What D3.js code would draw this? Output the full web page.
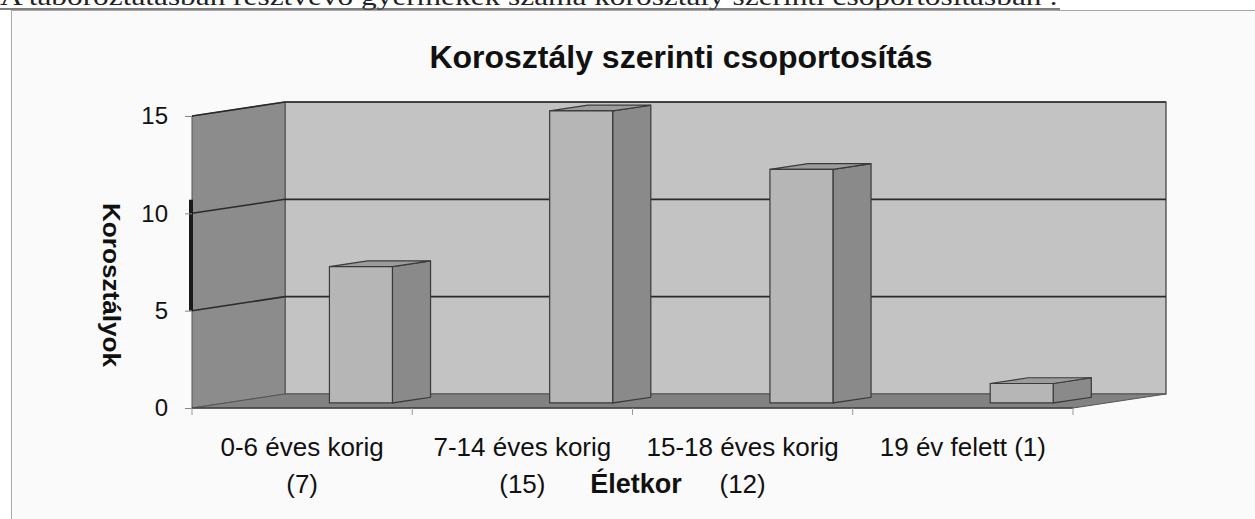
<!DOCTYPE html>
<html>
<head>
<meta charset="utf-8">
<script src="https://cdn.jsdelivr.net/npm/d3@7"></script>
<style>
  body { margin: 0; background: #fff; }
  svg { display: block; }
  .tick text { font-family: Arial, "Liberation Sans", sans-serif; }
</style>
</head>
<body>
<svg id="chart" width="1255" height="519"></svg>
<script>
// Chart data
var categories = ['0-6 éves korig (7)', '7-14 éves korig (15)',
  '15-18 éves korig (12)', '19 év felett (1)'];
var values = [7, 15, 12, 1];
var labelLines = [
  ['0-6 éves korig', '(7)'],
  ['7-14 éves korig', '(15)'],
  ['15-18 éves korig', '(12)'],
  ['19 év felett (1)']
];
var yTicks = [0, 5, 10, 15];

var chartTitle = 'Korosztály szerinti csoportosítás';
var yTitle = 'Korosztályok';
var xTitle = 'Életkor';
var docLine = 'A táboroztatásban résztvevő gyermekek száma korosztály ' +
  'szerinti csoportosításban :';

var font = 'Arial, "Liberation Sans", sans-serif';
var svg = d3.select('#chart');

// chart area frame
svg.append('rect')
  .attr('x', 11.5).attr('y', 10.5)
  .attr('width', 1260).attr('height', 520)
  .attr('fill', '#fafafa')
  .attr('stroke', '#a8a8a8');

// page text line, mostly cut off above the picture
svg.append('text')
  .attr('x', 0)
  .attr('y', 5)
  .attr('font-family', '"Liberation Serif", "Times New Roman", serif')
  .attr('font-size', 25)
  .attr('textLength', 1058)
  .attr('lengthAdjust', 'spacingAndGlyphs')
  .attr('fill', '#222')
  .text(docLine);
svg.append('line')
  .attr('x1', 0).attr('x2', 1060)
  .attr('y1', 9).attr('y2', 9)
  .attr('stroke', '#555').attr('stroke-width', 1.5);

// 3D geometry: front plane + depth vector
var x0 = 192, x1 = 1073;
var depth = [93, -14];
var x = d3.scaleBand().domain(categories).range([x0, x1]);
var y = d3.scaleLinear().domain([0, 15]).range([408, 116]);

var pt = function(px, py, f) {
  return [px + depth[0] * f, py + depth[1] * f];
};
var poly = d3.line().curve(d3.curveLinearClosed);
var stroke = '#3a3a3a';

var g = svg.append('g');

// back wall
g.append('path')
  .attr('d', poly([pt(x0, y(15), 1), pt(x1, y(15), 1),
    pt(x1, y(0), 1), pt(x0, y(0), 1)]))
  .attr('fill', '#c3c3c3')
  .attr('stroke', stroke).attr('stroke-width', 1.2);

// left wall
g.append('path')
  .attr('d', poly([[x0, y(15)], pt(x0, y(15), 1),
    pt(x0, y(0), 1), [x0, y(0)]]))
  .attr('fill', '#8c8c8c')
  .attr('stroke', '#555').attr('stroke-width', 1);

// floor
g.append('path')
  .attr('d', poly([[x0, y(0)], [x1, y(0)], pt(x1, y(0), 1),
    pt(x0, y(0), 1)]))
  .attr('fill', '#828282')
  .attr('stroke', '#555').attr('stroke-width', 1);

// gridlines on both walls
yTicks.filter(function(t) { return t > 0; }).forEach(function(t) {
  g.append('path')
    .attr('d', d3.line()([[x0, y(t)], pt(x0, y(t), 1), pt(x1, y(t), 1)]))
    .attr('fill', 'none')
    .attr('stroke', '#2a2a2a').attr('stroke-width', 1.6);
});

// scan mark on the wall edge
g.append('line')
  .attr('x1', x0 - 1).attr('x2', x0 - 1)
  .attr('y1', y(10.7)).attr('y2', y(5))
  .attr('stroke', '#1a1a1a').attr('stroke-width', 4);

// floor front edge
g.append('line')
  .attr('x1', x0).attr('x2', x1)
  .attr('y1', y(0)).attr('y2', y(0))
  .attr('stroke', '#444').attr('stroke-width', 1.5);

// bars
var bw = x.bandwidth();
var fFront = 0.36, fBack = 0.77;
var bars = g.selectAll('g.bar')
  .data(categories.map(function(c, i) { return {c: c, v: values[i]}; }))
  .enter().append('g').classed('bar', true);

bars.each(function(d) {
  var sel = d3.select(this);
  var lx = x(d.c) + bw * 0.472;
  var rx = lx + bw * 0.286;
  var fl = pt(lx, y(d.v), fFront), fr = pt(rx, y(d.v), fFront);
  var bl = pt(lx, y(0), fFront), br = pt(rx, y(0), fFront);
  var tr = pt(rx, y(d.v), fBack), tl = pt(lx, y(d.v), fBack);
  var btr = pt(rx, y(0), fBack);
  // side
  sel.append('path')
    .attr('d', poly([fr, tr, btr, br]))
    .attr('fill', '#8a8a8a')
    .attr('stroke', stroke).attr('stroke-width', 1.2);
  // top
  sel.append('path')
    .attr('d', poly([fl, fr, tr, tl]))
    .attr('fill', '#9c9c9c')
    .attr('stroke', stroke).attr('stroke-width', 1.2);
  // front
  sel.append('path')
    .attr('d', poly([fl, fr, br, bl]))
    .attr('fill', '#b6b6b6')
    .attr('stroke', stroke).attr('stroke-width', 1.2);
});

// y axis
var yAxis = svg.append('g')
  .attr('transform', 'translate(' + x0 + ',0)')
  .call(d3.axisLeft(y).tickValues(yTicks).tickSize(7).tickPadding(17));
yAxis.select('.domain').remove();
yAxis.selectAll('.tick line').attr('stroke', '#888');
yAxis.selectAll('.tick text')
  .attr('font-size', 24).attr('fill', '#111');

// x ticks on band edges
svg.append('g').selectAll('line')
  .data(categories.concat(['end']))
  .enter().append('line')
  .attr('x1', function(d, i) { return x0 + i * bw; })
  .attr('x2', function(d, i) { return x0 + i * bw; })
  .attr('y1', y(0)).attr('y2', y(0) + 7)
  .attr('stroke', '#999');

// x labels
var labels = svg.append('g')
  .attr('font-family', font)
  .attr('font-size', 26)
  .attr('fill', '#111')
  .attr('text-anchor', 'middle');
labels.selectAll('text')
  .data(categories)
  .enter().append('text')
  .attr('y', 456)
  .each(function(d, i) {
    var t = d3.select(this);
    labelLines[i].forEach(function(line, j) {
      t.append('tspan')
        .attr('x', x(d) + bw / 2)
        .attr('dy', j === 0 ? 0 : 37)
        .text(line);
    });
  });

// axis titles
svg.append('text')
  .attr('x', 636).attr('y', 493)
  .attr('text-anchor', 'middle')
  .attr('font-family', font)
  .attr('font-weight', 'bold')
  .attr('font-size', 27)
  .attr('fill', '#111')
  .text(xTitle);

svg.append('text')
  .attr('transform', 'translate(103,285) rotate(90)')
  .attr('text-anchor', 'middle')
  .attr('font-family', font)
  .attr('font-weight', 'bold')
  .attr('font-size', 23)
  .attr('textLength', 164)
  .attr('lengthAdjust', 'spacingAndGlyphs')
  .attr('fill', '#111')
  .text(yTitle);

// chart title
svg.append('text')
  .attr('x', 681).attr('y', 68)
  .attr('text-anchor', 'middle')
  .attr('font-family', font)
  .attr('font-weight', 'bold')
  .attr('font-size', 32)
  .attr('fill', '#111')
  .text(chartTitle);
</script>
</body>
</html>
